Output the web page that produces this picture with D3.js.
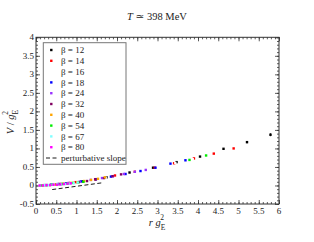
<!DOCTYPE html>
<html>
<head>
  <meta charset="utf-8">
  <script src="https://d3js.org/d3.v7.min.js"></script>
  <style>
    body { margin: 0; background: #fff; }
    text { font-family: "Liberation Serif", "DejaVu Serif", serif; fill: #222; }
  </style>
</head>
<body>
<div id="vis"></div>
<script>
  // series: beta values, colours, r g^2 and V / g^2
  var betas = [12, 14, 16, 18, 24, 32, 40, 54, 67, 80];
  var colors = ['#000000', '#ff0000', '#ffffff', '#0000ff', '#9933ff', '#800060', '#ffa500', '#00ee00', '#80ffff', '#ff00ff'];

  var r12 = [0.58, 1.16, 1.74, 2.31, 2.89, 3.47, 4.05, 4.63, 5.21, 5.79];
  var v12 = [0.04, 0.11, 0.22, 0.35, 0.48, 0.63, 0.78, 0.99, 1.17, 1.37];
  var e12 = [0, 0, 0, 0, 0.01, 0.01, 0.01, 0.02, 0.03, 0.04];
  var r14 = [0.49, 0.98, 1.46, 1.95, 2.44, 2.93, 3.41, 3.90, 4.39, 4.88];
  var v14 = [0.03, 0.09, 0.17, 0.27, 0.37, 0.48, 0.60, 0.73, 0.86, 1.00];
  var r16 = [0.43, 0.86, 1.29, 1.72, 2.15, 2.58, 3.01, 3.44, 3.87, 4.30];
  var v16 = [0.02, 0.07, 0.13, 0.21, 0.31, 0.40, 0.50, 0.61, 0.71, 0.82];
  var r18 = [0.37, 0.74, 1.11, 1.48, 1.85, 2.21, 2.58, 2.95, 3.32, 3.69];
  var v18 = [0.02, 0.06, 0.11, 0.17, 0.24, 0.31, 0.39, 0.48, 0.59, 0.68];
  var r24 = [0.27, 0.54, 0.81, 1.08, 1.35, 1.63, 1.90, 2.17, 2.44, 2.71];
  var v24 = [0.01, 0.04, 0.07, 0.10, 0.15, 0.20, 0.25, 0.31, 0.37, 0.42];
  var r32 = [0.21, 0.42, 0.63, 0.84, 1.05, 1.26, 1.47, 1.68, 1.89, 2.10];
  var v32 = [0.01, 0.02, 0.04, 0.06, 0.09, 0.12, 0.16, 0.20, 0.25, 0.30];
  var r40 = [0.17, 0.34, 0.51, 0.68, 0.85, 1.02, 1.19, 1.36, 1.53, 1.70];
  var v40 = [0.00, 0.01, 0.03, 0.05, 0.07, 0.09, 0.12, 0.15, 0.18, 0.22];
  var r54 = [0.13, 0.26, 0.39, 0.52, 0.65, 0.78, 0.91, 1.04, 1.17, 3.79, 4.20];
  var v54 = [0.00, 0.01, 0.02, 0.03, 0.04, 0.05, 0.07, 0.08, 0.10, 0.69, 0.81];
  var r67 = [0.10, 0.21, 0.31, 0.41, 0.52, 0.62, 0.72, 0.83, 0.93, 1.03];
  var v67 = [0.00, 0.01, 0.01, 0.02, 0.03, 0.03, 0.04, 0.05, 0.06, 0.08];
  var r80 = [0.09, 0.17, 0.26, 0.35, 0.43, 0.52, 0.60, 0.69, 0.78, 0.86];
  var v80 = [0.00, 0.00, 0.01, 0.01, 0.02, 0.02, 0.03, 0.04, 0.05, 0.06];

  var rAll = [r12, r14, r16, r18, r24, r32, r40, r54, r67, r80];
  var vAll = [v12, v14, v16, v18, v24, v32, v40, v54, v67, v80];

  // perturbative slope (dashed)
  var pertR = [0.40, 1.62];
  var pertV = [-0.11, 0.07];

  var xTicks = [0, 0.5, 1, 1.5, 2, 2.5, 3, 3.5, 4, 4.5, 5, 5.5, 6];
  var yTicks = [-0.5, 0, 0.5, 1, 1.5, 2, 2.5, 3, 3.5, 4];

  var width = 314, height = 242;
  var pLeft = 36, pRight = 279, pTop = 37.3, pBottom = 204;

  var svg = d3.select('#vis').append('svg')
    .attr('width', width)
    .attr('height', height);

  var x = d3.scaleLinear().domain([0, 6]).range([pLeft, pRight]);
  var y = d3.scaleLinear().domain([-0.5, 4]).range([pBottom, pTop]);

  // ticks on all four sides, inward
  var minorX = d3.range(0, 60.5, 1).map(d => d / 10);
  var minorY = d3.range(-5, 40.5, 1).map(d => d / 10);
  var axisColor = '#333';

  svg.append('g').attr('transform', 'translate(0,' + pBottom + ')')
    .call(d3.axisTop(x).tickValues(minorX).tickSize(2).tickFormat(''));
  svg.append('g').attr('transform', 'translate(0,' + pBottom + ')')
    .call(d3.axisTop(x).tickValues(xTicks).tickSize(4).tickFormat(''));
  svg.append('g').attr('transform', 'translate(0,' + pTop + ')')
    .call(d3.axisBottom(x).tickValues(minorX).tickSize(2).tickFormat(''));
  svg.append('g').attr('transform', 'translate(0,' + pTop + ')')
    .call(d3.axisBottom(x).tickValues(xTicks).tickSize(4).tickFormat(''));
  svg.append('g').attr('transform', 'translate(' + pLeft + ',0)')
    .call(d3.axisRight(y).tickValues(minorY).tickSize(2).tickFormat(''));
  svg.append('g').attr('transform', 'translate(' + pLeft + ',0)')
    .call(d3.axisRight(y).tickValues(yTicks).tickSize(4).tickFormat(''));
  svg.append('g').attr('transform', 'translate(' + pRight + ',0)')
    .call(d3.axisLeft(y).tickValues(minorY).tickSize(2).tickFormat(''));
  svg.append('g').attr('transform', 'translate(' + pRight + ',0)')
    .call(d3.axisLeft(y).tickValues(yTicks).tickSize(4).tickFormat(''));
  svg.selectAll('.domain').remove();
  svg.selectAll('.tick line').attr('stroke', axisColor).attr('stroke-width', 0.8);

  svg.append('rect')
    .attr('x', pLeft).attr('y', pTop)
    .attr('width', pRight - pLeft).attr('height', pBottom - pTop)
    .attr('fill', 'none').attr('stroke', axisColor).attr('stroke-width', 1);

  // tick labels
  svg.selectAll('.xl').data(xTicks).enter().append('text')
    .attr('x', d => x(d)).attr('y', pBottom + 10)
    .attr('text-anchor', 'middle').attr('font-size', 9)
    .text(d => d);
  svg.selectAll('.yl').data(yTicks).enter().append('text')
    .attr('x', pLeft - 2).attr('y', d => y(d) + 3)
    .attr('text-anchor', 'end').attr('font-size', 9)
    .text(d => d);

  // titles
  var title = svg.append('text').attr('x', 157).attr('y', 20)
    .attr('text-anchor', 'middle').attr('font-size', 10.5);
  title.append('tspan').attr('font-style', 'italic').text('T');
  title.append('tspan').text(' \u2243 398 MeV');

  var xt = svg.append('text').attr('x', 157).attr('y', 226)
    .attr('text-anchor', 'middle').attr('font-size', 10.5);
  xt.append('tspan').attr('font-style', 'italic').text('r g');
  xt.append('tspan').attr('font-size', 7.5).attr('dy', 3.5).text('E');
  xt.append('tspan').attr('font-size', 7.5).attr('dx', -5).attr('dy', -10).text('2');

  var yt = svg.append('text').attr('transform', 'translate(14,' + 122 + ') rotate(-90)')
    .attr('text-anchor', 'middle').attr('font-size', 10.5);
  yt.append('tspan').attr('font-style', 'italic').text('V');
  yt.append('tspan').text(' / ');
  yt.append('tspan').attr('font-style', 'italic').text('g');
  yt.append('tspan').attr('font-size', 7.5).attr('dy', 3.5).text('E');
  yt.append('tspan').attr('font-size', 7.5).attr('dx', -5).attr('dy', -10).text('2');

  // perturbative dashed line
  svg.append('line')
    .attr('x1', x(pertR[0])).attr('y1', y(pertV[0]))
    .attr('x2', x(pertR[1])).attr('y2', y(pertV[1]))
    .attr('stroke', '#000').attr('stroke-width', 0.9)
    .attr('stroke-dasharray', '4,2.5');

  // points
  var s = 2.4;
  betas.forEach(function (b, i) {
    var pts = rAll[i].map((r, j) => ({ r: r, v: vAll[i][j], e: (i === 0 ? e12[j] : 0) }));
    var g = svg.append('g');
    g.selectAll('line').data(pts.filter(d => d.e > 0)).enter().append('line')
      .attr('x1', d => x(d.r)).attr('x2', d => x(d.r))
      .attr('y1', d => y(d.v - d.e)).attr('y2', d => y(d.v + d.e))
      .attr('stroke', colors[i]).attr('stroke-width', 0.8);
    g.selectAll('rect').data(pts).enter().append('rect')
      .attr('x', d => x(d.r) - s / 2).attr('y', d => y(d.v) - s / 2)
      .attr('width', s).attr('height', s)
      .attr('fill', colors[i]);
  });

  // legend
  var lx = 43.3, ly = 42.7;
  svg.append('rect')
    .attr('x', lx).attr('y', ly).attr('width', 82.7).attr('height', 121.6)
    .attr('fill', '#fff').attr('stroke', '#777').attr('stroke-width', 1);
  betas.forEach(function (b, i) {
    var yy = 50 + i * 10.8;
    svg.append('rect')
      .attr('x', 51.3 - s / 2).attr('y', yy - s / 2)
      .attr('width', s).attr('height', s)
      .attr('fill', colors[i]);
    svg.append('text').attr('x', 61).attr('y', yy + 3.2)
      .attr('font-size', 9).text('\u03b2 = ' + b);
  });
  var dy = 50 + 10 * 10.8;
  svg.append('line')
    .attr('x1', 46).attr('x2', 57).attr('y1', dy).attr('y2', dy)
    .attr('stroke', '#000').attr('stroke-width', 0.9)
    .attr('stroke-dasharray', '4,2.5');
  svg.append('text').attr('x', 61).attr('y', dy + 3.2)
    .attr('font-size', 9).text('perturbative slope');
</script>
</body>
</html>
